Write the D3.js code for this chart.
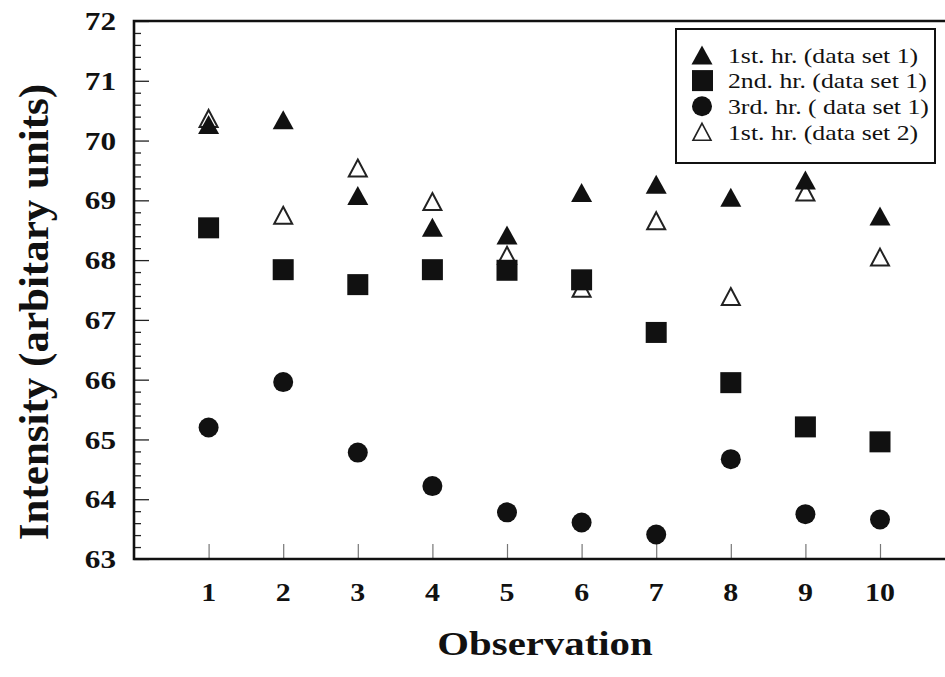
<!DOCTYPE html>
<meta charset="utf-8">
<script src="https://d3js.org/d3.v7.min.js"></script>
<style>
  body { margin: 0; background: #fff; }
  svg text { font-family: "Times New Roman", Times, "Liberation Serif", serif; fill: #111; }
  .tick-label { font-size: 26px; font-weight: bold; }
  .axis-title { font-weight: bold; }
  .legend-text { font-size: 22px; }
</style>
<div id="chart"></div>
<script>
// values
var observations = [1, 2, 3, 4, 5, 6, 7, 8, 9, 10];
var firstHourSet1 = [70.27, 70.35, 69.08, 68.55, 68.42, 69.13, 69.27, 69.05, 69.34, 68.74];
var secondHourSet1 = [68.54, 67.84, 67.59, 67.84, 67.83, 67.67, 66.79, 65.95, 65.21, 64.96];
var thirdHourSet1 = [65.2, 65.96, 64.78, 64.22, 63.78, 63.61, 63.41, 64.67, 63.75, 63.66];
var firstHourSet2 = [70.37, 68.75, 69.54, 68.98, 68.08, 67.53, 68.66, 67.39, 69.14, 68.05];

var yTicks = [63, 64, 65, 66, 67, 68, 69, 70, 71, 72];
var legendLabels = [
  "1st. hr. (data set 1)",
  "2nd. hr. (data set 1)",
  "3rd. hr. ( data set 1)",
  "1st. hr. (data set 2)"
];

var width = 945, height = 677;
var plotLeft = 134, plotTop = 21, plotBottom = 559;

var svg = d3.select("#chart").append("svg")
  .attr("width", width)
  .attr("height", height);

var x = d3.scaleLinear().domain([0, 11]).range([plotLeft, plotLeft + 11 * 74.6]);
var y = d3.scaleLinear().domain([63, 72]).range([plotBottom, plotTop]);

// the scanned figure is a bit wider than tall, so widen the type a little
function stretch(sel, k) {
  sel.each(function() {
    var len = this.getComputedTextLength();
    d3.select(this).attr("textLength", len * k).attr("lengthAdjust", "spacingAndGlyphs");
  });
}

// marker shapes, centred on their bounding box
function triPath(w, h) {
  return "M0," + (-h / 2) + "L" + (w / 2) + "," + (h / 2) + "L" + (-w / 2) + "," + (h / 2) + "Z";
}
var tri = triPath(21, 19);
var hollowTri = triPath(18, 17);

// y axis: minor ticks every 0.2, major every 1, pointing inward
var minor = d3.range(63, 72.001, 0.2);
var yAxis = d3.axisRight(y)
  .tickValues(minor)
  .tickSize(7)
  .tickFormat("");
svg.append("g")
  .attr("transform", "translate(" + plotLeft + ",0)")
  .call(yAxis)
  .call(function(g) {
    g.select(".domain").remove();
    g.selectAll("line").attr("stroke", "#222").attr("stroke-width", 1.3);
    g.selectAll(".tick").filter(function(d) { return Math.abs(d - Math.round(d)) < 1e-6; })
      .select("line").attr("x2", 15);
  });

svg.append("g").selectAll("text")
  .data(yTicks)
  .enter().append("text")
  .attr("class", "tick-label")
  .attr("x", 116)
  .attr("y", function(d) { return y(d); })
  .attr("dy", "0.35em")
  .attr("text-anchor", "end")
  .text(function(d) { return d; })
  .call(stretch, 1.2);

// x axis ticks pointing up
var xAxis = d3.axisTop(x)
  .tickValues(observations)
  .tickSize(15)
  .tickFormat("");
svg.append("g")
  .attr("transform", "translate(0," + plotBottom + ")")
  .call(xAxis)
  .call(function(g) {
    g.select(".domain").remove();
    g.selectAll("line").attr("stroke", "#777").attr("stroke-width", 1.2);
  });

svg.append("g").selectAll("text")
  .data(observations)
  .enter().append("text")
  .attr("class", "tick-label")
  .attr("x", function(d) { return x(d); })
  .attr("y", 601)
  .attr("text-anchor", "middle")
  .text(function(d) { return d; })
  .call(stretch, 1.15);

// frame: left, top, bottom (right side runs off the picture)
svg.append("path")
  .attr("d", "M" + (width + 5) + "," + plotTop + "H" + plotLeft + "V" + plotBottom + "H" + (width + 5))
  .attr("fill", "none")
  .attr("stroke", "#111")
  .attr("stroke-width", 2.6);

// points
var plot = svg.append("g");

plot.selectAll(".s4")
  .data(firstHourSet2)
  .enter().append("path")
  .attr("d", hollowTri)
  .attr("transform", function(d, i) { return "translate(" + x(observations[i]) + "," + y(d) + ")"; })
  .attr("fill", "#fff")
  .attr("stroke", "#222")
  .attr("stroke-width", 2);

plot.selectAll(".s1")
  .data(firstHourSet1)
  .enter().append("path")
  .attr("d", tri)
  .attr("transform", function(d, i) { return "translate(" + x(observations[i]) + "," + y(d) + ")"; })
  .attr("fill", "#111");

plot.selectAll(".s2")
  .data(secondHourSet1)
  .enter().append("rect")
  .attr("x", function(d, i) { return x(observations[i]) - 10.5; })
  .attr("y", function(d) { return y(d) - 10.5; })
  .attr("width", 21)
  .attr("height", 21)
  .attr("fill", "#111");

plot.selectAll(".s3")
  .data(thirdHourSet1)
  .enter().append("circle")
  .attr("cx", function(d, i) { return x(observations[i]); })
  .attr("cy", function(d) { return y(d); })
  .attr("r", 10)
  .attr("fill", "#111");

// axis titles
svg.append("text")
  .attr("class", "axis-title")
  .attr("transform", "translate(48,312) rotate(-90)")
  .attr("text-anchor", "middle")
  .style("font-size", "43px")
  .text("Intensity (arbitary units)");

svg.append("text")
  .attr("class", "axis-title")
  .attr("x", 545)
  .attr("y", 655)
  .attr("text-anchor", "middle")
  .style("font-size", "34px")
  .text("Observation")
  .call(stretch, 1.2);

// legend
var legend = svg.append("g");
legend.append("rect")
  .attr("x", 676)
  .attr("y", 29)
  .attr("width", 259)
  .attr("height", 134)
  .attr("fill", "#fff")
  .attr("stroke", "#111")
  .attr("stroke-width", 2);

var rowY = function(i) { return 55 + i * 25.6; };
legend.append("path").attr("d", tri).attr("transform", "translate(702," + rowY(0) + ")").attr("fill", "#111");
legend.append("rect").attr("x", 692).attr("y", rowY(1) - 10.5).attr("width", 21).attr("height", 21).attr("fill", "#111");
legend.append("circle").attr("cx", 702).attr("cy", rowY(2)).attr("r", 10).attr("fill", "#111");
legend.append("path").attr("d", hollowTri).attr("transform", "translate(702," + rowY(3) + ")")
  .attr("fill", "#fff").attr("stroke", "#222").attr("stroke-width", 1.6);

legend.selectAll(".legend-text")
  .data(legendLabels)
  .enter().append("text")
  .attr("class", "legend-text")
  .attr("x", 728)
  .attr("y", function(d, i) { return rowY(i); })
  .attr("dy", "0.35em")
  .text(function(d) { return d; })
  .call(stretch, 1.17);
</script>
